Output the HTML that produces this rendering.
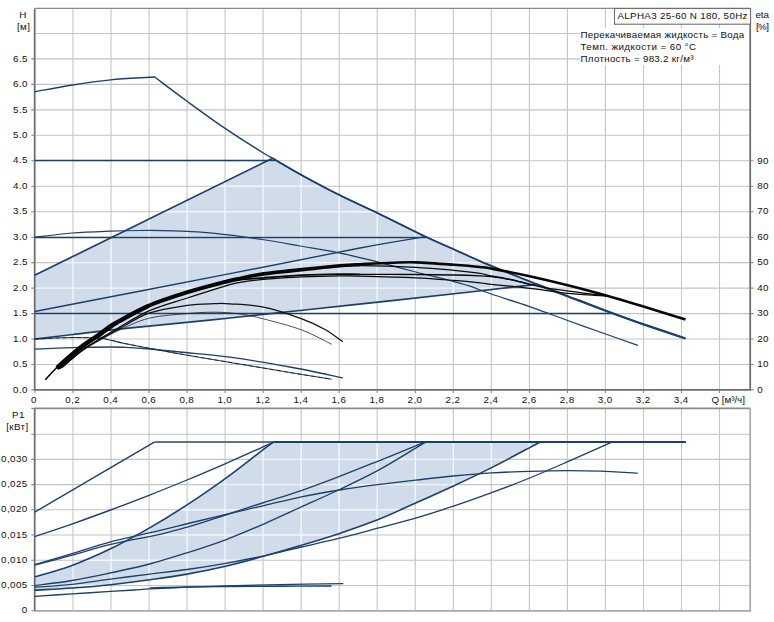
<!DOCTYPE html>
<html lang="ru"><head><meta charset="utf-8"><title>ALPHA3 25-60 N 180</title>
<style>html,body{margin:0;padding:0;background:#fff}body{width:774px;height:622px;overflow:hidden}svg{display:block}text{font-family:"Liberation Sans",Arial,sans-serif;font-size:9.8px;letter-spacing:0.4px;fill:#111}</style>
</head><body>
<svg width="774" height="622" viewBox="0 0 774 622">
<rect width="774" height="622" fill="#fff"/>
<defs>
<clipPath id="c1"><path d="M34.6 275.3 L273.1 158.0 C277.8 160.8 290.2 168.7 301.3 174.9 C312.4 181.1 326.8 188.7 339.5 195.1 C352.2 201.5 363.4 206.3 377.8 213.2 C392.2 220.1 412.9 230.7 425.6 236.7 C438.3 242.7 444.7 245.2 453.8 249.3 C462.9 253.4 470.6 257.1 480.0 261.1 C489.4 265.2 500.8 269.7 510.3 273.6 C519.8 277.5 532.5 282.6 537.0 284.4 C525.8 285.7 501.2 288.6 470.0 292.0 C438.8 295.4 390.0 300.8 350.0 305.1 C310.0 309.4 267.3 314.1 230.0 318.0 C192.7 321.9 152.2 325.6 126.0 328.4 C99.8 331.1 88.2 332.7 73.0 334.5 C57.8 336.3 41.0 338.2 34.6 339.0 Z"/></clipPath>
<clipPath id="c2"><path d="M34.6 577.0 C40.8 575.1 59.3 570.1 72.0 565.4 C84.7 560.7 97.7 555.0 110.6 548.8 C123.5 542.5 136.9 535.2 149.6 527.9 C162.3 520.6 174.3 513.2 187.0 504.9 C199.7 496.6 212.7 487.6 225.6 478.3 C238.5 469.0 256.2 454.8 264.2 448.8 C272.2 442.8 271.9 443.2 273.4 442.1 L540.1 442.1 C538.4 443.0 537.8 443.4 529.7 447.6 C521.6 451.9 504.3 461.2 491.6 467.6 C478.9 474.0 466.1 480.1 453.4 486.0 C440.7 491.9 428.2 497.5 415.6 503.1 C403.0 508.7 390.3 514.8 377.6 519.8 C364.9 524.8 352.3 529.1 339.6 533.4 C326.9 537.6 313.9 541.5 301.3 545.3 C288.7 549.1 276.8 552.6 264.2 556.1 C251.6 559.6 238.5 563.2 225.6 566.2 C212.7 569.2 199.7 571.8 187.0 574.1 C174.3 576.4 162.3 578.0 149.6 579.8 C136.9 581.6 123.5 583.3 110.6 584.7 C97.7 586.1 84.7 587.1 72.0 588.0 C59.3 588.9 40.8 589.8 34.6 590.2 Z"/></clipPath>
<clipPath id="t1"><rect x="34" y="8" width="717" height="382"/></clipPath>
</defs>
<g>
<path d="M73.0 8.4 V389.9 M111.0 8.4 V389.9 M149.1 8.4 V389.9 M187.1 8.4 V389.9 M225.1 8.4 V389.9 M263.1 8.4 V389.9 M301.2 8.4 V389.9 M339.2 8.4 V389.9 M377.2 8.4 V389.9 M415.3 8.4 V389.9 M453.3 8.4 V389.9 M491.3 8.4 V389.9 M529.4 8.4 V389.9 M567.4 8.4 V389.9 M605.4 8.4 V389.9 M643.5 8.4 V389.9 M681.5 8.4 V389.9 M719.5 8.4 V389.9" fill="none" stroke="#c6c6c6" stroke-width="1.1" /><path d="M34.7 364.5 H750.2 M34.7 339.0 H750.2 M34.7 313.6 H750.2 M34.7 288.1 H750.2 M34.7 262.6 H750.2 M34.7 237.2 H750.2 M34.7 211.7 H750.2 M34.7 186.2 H750.2 M34.7 160.8 H750.2 M34.7 135.3 H750.2 M34.7 109.9 H750.2 M34.7 84.4 H750.2 M34.7 58.9 H750.2 M34.7 33.5 H750.2" fill="none" stroke="#c4c4c4" stroke-width="1.1" />
<path d="M34.6 275.3 L273.1 158.0 C277.8 160.8 290.2 168.7 301.3 174.9 C312.4 181.1 326.8 188.7 339.5 195.1 C352.2 201.5 363.4 206.3 377.8 213.2 C392.2 220.1 412.9 230.7 425.6 236.7 C438.3 242.7 444.7 245.2 453.8 249.3 C462.9 253.4 470.6 257.1 480.0 261.1 C489.4 265.2 500.8 269.7 510.3 273.6 C519.8 277.5 532.5 282.6 537.0 284.4 C525.8 285.7 501.2 288.6 470.0 292.0 C438.8 295.4 390.0 300.8 350.0 305.1 C310.0 309.4 267.3 314.1 230.0 318.0 C192.7 321.9 152.2 325.6 126.0 328.4 C99.8 331.1 88.2 332.7 73.0 334.5 C57.8 336.3 41.0 338.2 34.6 339.0 Z" fill="#d0dcea"/>
<path d="M73.0 8.4 V389.9 M111.0 8.4 V389.9 M149.1 8.4 V389.9 M187.1 8.4 V389.9 M225.1 8.4 V389.9 M263.1 8.4 V389.9 M301.2 8.4 V389.9 M339.2 8.4 V389.9 M377.2 8.4 V389.9 M415.3 8.4 V389.9 M453.3 8.4 V389.9 M491.3 8.4 V389.9 M529.4 8.4 V389.9 M567.4 8.4 V389.9 M605.4 8.4 V389.9 M643.5 8.4 V389.9 M681.5 8.4 V389.9 M719.5 8.4 V389.9" fill="none" stroke="#f2f6fa" stroke-width="1.4" clip-path="url(#c1)"/><path d="M34.7 364.5 H750.2 M34.7 339.0 H750.2 M34.7 313.6 H750.2 M34.7 288.1 H750.2 M34.7 262.6 H750.2 M34.7 237.2 H750.2 M34.7 211.7 H750.2 M34.7 186.2 H750.2 M34.7 160.8 H750.2 M34.7 135.3 H750.2 M34.7 109.9 H750.2 M34.7 84.4 H750.2 M34.7 58.9 H750.2 M34.7 33.5 H750.2" fill="none" stroke="#f2f6fa" stroke-width="1.4" clip-path="url(#c1)"/>
<rect x="580" y="28" width="170" height="37" fill="#fff"/>
<path d="M34.7 8.4 H750.2" stroke="#8a8a8a" stroke-width="1.4" fill="none"/>
<path d="M34.7 8.4 V390.8 M750.2 8.4 V390.8 M33.8 389.9 H751.1" stroke="#6c6c6c" stroke-width="1.75" fill="none"/>
<path d="M34.7 389.9 h-3.4 M34.7 364.5 h-3.4 M34.7 339.0 h-3.4 M34.7 313.6 h-3.4 M34.7 288.1 h-3.4 M34.7 262.6 h-3.4 M34.7 237.2 h-3.4 M34.7 211.7 h-3.4 M34.7 186.2 h-3.4 M34.7 160.8 h-3.4 M34.7 135.3 h-3.4 M34.7 109.9 h-3.4 M34.7 84.4 h-3.4 M34.7 58.9 h-3.4 M750.2 389.9 h3.3 M750.2 364.5 h3.3 M750.2 339.0 h3.3 M750.2 313.6 h3.3 M750.2 288.1 h3.3 M750.2 262.6 h3.3 M750.2 237.2 h3.3 M750.2 211.7 h3.3 M750.2 186.2 h3.3 M750.2 160.8 h3.3 M35.0 389.9 v3.2 M73.0 389.9 v3.2 M111.0 389.9 v3.2 M149.1 389.9 v3.2 M187.1 389.9 v3.2 M225.1 389.9 v3.2 M263.2 389.9 v3.2 M301.2 389.9 v3.2 M339.2 389.9 v3.2 M377.2 389.9 v3.2 M415.3 389.9 v3.2 M453.3 389.9 v3.2 M491.3 389.9 v3.2 M529.4 389.9 v3.2 M567.4 389.9 v3.2 M605.4 389.9 v3.2 M643.5 389.9 v3.2 M681.5 389.9 v3.2 M719.5 389.9 v3.2" stroke="#868686" stroke-width="1.1" fill="none"/>
</g>
<path d="M34.6 91.8 C40.9 90.7 59.9 87.0 72.6 85.0 C85.3 83.0 97.9 81.2 110.6 79.9 C123.3 78.6 141.6 77.8 148.9 77.3 C156.2 76.8 153.4 76.9 154.3 76.8 L154.3 76.8 C159.8 80.9 175.3 92.7 187.1 101.3 C198.9 109.9 212.4 119.8 225.1 128.4 C237.8 137.0 255.3 148.0 263.3 153.0 C271.3 158.0 266.8 154.9 273.1 158.6 C279.4 162.2 290.2 168.8 301.3 174.9 C312.4 181.0 326.8 188.7 339.5 195.1 C352.2 201.5 363.4 206.3 377.8 213.2 C392.2 220.1 412.9 230.7 425.6 236.7 C438.3 242.7 444.7 245.2 453.8 249.3 C462.9 253.4 470.6 257.1 480.0 261.1 C489.4 265.2 500.8 269.7 510.3 273.6 C519.8 277.5 527.4 280.6 537.0 284.4 C546.6 288.2 560.5 293.6 567.7 296.3 C574.9 299.1 572.6 298.1 580.0 300.9 C587.4 303.7 601.3 309.1 611.9 313.0 C622.5 316.9 631.2 320.1 643.5 324.4 C655.8 328.6 678.5 336.1 685.5 338.5" fill="none" stroke="#1b406c" stroke-width="1.4" stroke-linejoin="round" />
<path d="M273.1 158.6 C277.8 161.3 290.2 168.8 301.3 174.9 C312.4 181.0 326.8 188.7 339.5 195.1 C352.2 201.5 363.4 206.3 377.8 213.2 C392.2 220.1 412.9 230.7 425.6 236.7 C438.3 242.7 444.7 245.2 453.8 249.3 C462.9 253.4 470.6 257.1 480.0 261.1 C489.4 265.2 500.8 269.7 510.3 273.6 C519.8 277.5 532.5 282.6 537.0 284.4" fill="none" stroke="#1b406c" stroke-width="1.7" stroke-linejoin="round" />
<path d="M537.0 284.4 C542.1 286.4 560.5 293.6 567.7 296.3 C574.9 299.1 572.6 298.1 580.0 300.9 C587.4 303.7 601.3 309.1 611.9 313.0 C622.5 316.9 631.2 320.1 643.5 324.4 C655.8 328.6 678.5 336.1 685.5 338.5" fill="none" stroke="#1b406c" stroke-width="2.3" stroke-linejoin="round" />
<path d="M34.6 160.6 L275.5 160.6" fill="none" stroke="#1b406c" stroke-width="1.5" stroke-linejoin="round" />
<path d="M34.6 237.4 L425.8 237.4" fill="none" stroke="#1b406c" stroke-width="1.5" stroke-linejoin="round" />
<path d="M34.6 313.5 L611.9 313.5" fill="none" stroke="#1b406c" stroke-width="1.5" stroke-linejoin="round" />
<path d="M34.6 275.3 L273.1 158.0" fill="none" stroke="#1b406c" stroke-width="1.7" stroke-linejoin="round" />
<path d="M34.6 311.5 C67.2 305.2 175.8 284.3 230.0 273.7 C284.2 263.1 327.4 254.2 360.0 248.0 C392.6 241.8 414.7 238.6 425.6 236.7" fill="none" stroke="#1b406c" stroke-width="1.35" stroke-linejoin="round" />
<path d="M34.6 339.0 C41.0 338.2 57.8 336.3 73.0 334.5 C88.2 332.7 99.8 331.1 126.0 328.4 C152.2 325.6 192.7 321.9 230.0 318.0 C267.3 314.1 310.0 309.4 350.0 305.1 C390.0 300.8 438.8 295.4 470.0 292.0 C501.2 288.6 525.8 285.7 537.0 284.4" fill="none" stroke="#1b406c" stroke-width="1.7" stroke-linejoin="round" />
<path d="M34.6 237.3 C40.8 236.6 59.4 234.0 72.0 233.0 C84.6 232.0 98.7 231.6 110.0 231.2 C121.3 230.8 129.2 230.6 140.0 230.5 C150.8 230.4 162.5 230.4 175.0 230.9 C187.5 231.4 199.9 231.9 215.0 233.4 C230.1 234.9 251.1 237.9 265.3 240.0 C279.5 242.1 288.0 243.9 300.0 246.0 C312.0 248.1 327.5 250.7 337.5 252.6 C347.5 254.5 353.4 256.1 360.0 257.6 C366.6 259.2 368.1 259.5 377.4 261.9 C386.7 264.3 403.1 268.7 415.8 272.0 C428.5 275.3 444.8 279.2 453.8 281.6 C462.8 284.0 463.8 284.0 470.0 286.1 C476.2 288.2 481.4 290.6 491.3 294.0 C501.2 297.4 516.9 302.2 529.6 306.6 C542.3 311.0 556.0 316.3 567.7 320.5 C579.4 324.7 588.3 327.9 600.0 332.0 C611.7 336.1 631.5 343.2 637.8 345.4" fill="none" stroke="#1b406c" stroke-width="1.25" stroke-linejoin="round" />
<path d="M34.6 349.2 C41.0 348.9 60.3 348.0 73.0 347.6 C85.7 347.2 102.2 347.0 111.0 347.0 C119.8 347.0 119.5 347.1 126.0 347.4 C132.5 347.7 141.0 348.2 150.0 349.0 C159.0 349.8 166.7 350.6 180.0 352.0 C193.3 353.4 211.7 354.7 230.0 357.2 C248.3 359.7 271.2 363.6 290.0 367.0 C308.8 370.4 334.0 376.1 342.8 377.9" fill="none" stroke="#1b406c" stroke-width="1.3" stroke-linejoin="round" />
<path d="M34.6 339.0 C41.0 338.8 62.1 337.7 73.0 337.6 C83.9 337.5 93.7 337.8 100.0 338.2 C106.3 338.6 106.7 339.4 111.0 340.3 C115.3 341.2 119.5 342.5 126.0 343.8 C132.5 345.1 141.0 346.7 150.0 348.4 C159.0 350.1 166.7 351.6 180.0 353.9 C193.3 356.2 211.7 359.3 230.0 362.4 C248.3 365.5 273.1 369.7 290.0 372.5 C306.9 375.3 324.8 378.1 331.7 379.2" fill="none" stroke="#1b406c" stroke-width="1.05" stroke-linejoin="round" />
<path d="M34.6 339.0 C41.0 338.8 62.1 337.7 73.0 337.6 C83.9 337.5 93.7 337.8 100.0 338.2 C106.3 338.6 106.7 339.4 111.0 340.3 C115.3 341.2 119.5 342.5 126.0 343.8 C132.5 345.1 141.0 346.7 150.0 348.4 C159.0 350.1 166.7 351.6 180.0 353.9 C193.3 356.2 211.7 359.3 230.0 362.4 C248.3 365.5 273.1 369.7 290.0 372.5 C306.9 375.3 324.8 378.1 331.7 379.2" fill="none" stroke="#111" stroke-width="0.7" stroke-linejoin="round" stroke-dasharray="4 3"/>
<path d="M64.0 366.0 C67.1 363.5 76.5 355.1 82.5 350.8 C88.5 346.5 94.2 343.5 100.0 340.2 C105.8 336.9 109.2 334.7 117.4 331.0 C125.6 327.3 137.3 321.1 149.0 318.2 C160.7 315.3 176.3 314.6 187.3 313.6 C198.3 312.6 206.2 312.1 215.0 312.2 C223.8 312.3 231.9 312.9 240.0 314.0 C248.1 315.1 253.3 316.2 263.6 318.9 C273.9 321.6 290.5 325.8 301.9 330.0 C313.2 334.2 326.7 341.9 331.7 344.3" fill="none" stroke="#222" stroke-width="0.8" stroke-linejoin="round" />
<path d="M62.0 367.4 C65.4 364.5 76.2 355.0 82.5 350.3 C88.8 345.6 94.2 342.8 100.0 339.4 C105.8 336.0 109.2 334.3 117.4 329.9 C125.6 325.5 137.3 317.3 149.0 313.2 C160.7 309.1 176.5 306.9 187.3 305.3 C198.1 303.7 206.9 303.9 214.0 303.7 C221.1 303.4 221.7 303.2 230.0 303.8 C238.3 304.4 251.6 304.7 263.6 307.2 C275.6 309.7 291.7 315.2 301.9 318.9 C312.1 322.6 318.2 325.7 325.0 329.5 C331.8 333.3 339.8 339.7 342.8 341.7" fill="none" stroke="#111" stroke-width="1.3" stroke-linejoin="round" />
<path d="M60.0 368.8 C63.8 365.6 75.8 354.8 82.5 349.8 C89.2 344.8 94.2 342.2 100.0 338.6 C105.8 335.0 109.2 333.0 117.4 328.4 C125.6 323.8 137.3 316.0 149.0 310.9 C160.7 305.8 174.5 302.2 187.3 298.0 C200.1 293.8 217.1 288.4 225.9 285.8 C234.7 283.2 233.7 283.5 240.0 282.4 C246.3 281.3 253.3 280.3 263.6 279.4 C273.9 278.5 289.2 277.4 301.9 276.8 C314.6 276.2 330.3 275.9 340.0 275.8 C349.7 275.7 347.4 275.9 360.0 276.2 C372.6 276.5 400.2 277.2 415.8 277.9 C431.4 278.6 443.1 279.6 453.8 280.4 C464.5 281.2 473.8 282.2 480.0 282.9 C486.2 283.6 486.2 283.9 491.3 284.4 C496.4 284.9 503.9 285.5 510.3 286.1 C516.7 286.8 523.7 287.6 529.6 288.3 C535.5 289.0 539.2 289.5 545.6 290.3 C552.0 291.1 558.6 292.4 567.7 293.3 C576.8 294.2 593.3 295.2 600.0 295.7 C606.7 296.1 606.4 295.9 607.7 296.0" fill="none" stroke="#080808" stroke-width="1.2" stroke-linejoin="round" />
<path d="M57.0 368.1 C58.4 366.9 60.8 364.4 65.1 360.8 C69.3 357.2 76.7 350.6 82.5 346.2 C88.3 341.8 95.4 337.4 100.0 334.2 C104.6 331.0 107.1 328.8 110.0 326.8 C112.9 324.8 110.9 325.7 117.4 322.2" fill="none" stroke="#080808" stroke-width="4.7" stroke-linejoin="round" stroke-linecap="butt"/>
<path d="M117.4 322.2 C123.9 318.7 137.3 310.8 149.0 305.8" fill="none" stroke="#080808" stroke-width="4.2" stroke-linejoin="round" />
<path d="M57.0 368.9 C58.4 367.7 60.8 365.2 65.1 361.6 C69.3 358.0 76.7 351.4 82.5 347.0 C88.3 342.6 95.4 338.2 100.0 335.0 C104.6 331.8 107.1 329.6 110.0 327.6 C112.9 325.6 110.9 326.5 117.4 323.0 C123.9 319.5 137.3 311.6 149.0 306.6 C160.7 301.7 174.5 297.3 187.3 293.3 C200.1 289.3 217.1 285.1 225.9 282.8 C234.7 280.6 233.7 280.6 240.0 279.8 C246.3 279.0 253.3 278.6 263.6 277.8 C273.9 277.0 289.2 275.8 301.9 275.2 C314.6 274.6 330.3 274.3 340.0 274.2 C349.7 274.1 347.4 274.3 360.0 274.4" fill="none" stroke="#080808" stroke-width="1.8" stroke-linejoin="round" />
<path d="M360.0 274.4 C372.6 274.4 400.2 274.4 415.8 274.5 C431.4 274.6 443.1 274.8 453.8 275.0 C464.5 275.2 473.8 275.6 480.0 275.9 C486.2 276.2 486.2 276.0 491.3 276.6 C496.4 277.2 503.9 278.3 510.3 279.6 C516.7 280.9 526.4 283.6 529.6 284.4" fill="none" stroke="#080808" stroke-width="1.3" stroke-linejoin="round" />
<path d="M57.0 368.2 C58.4 367.0 60.8 364.6 65.1 360.9 C69.3 357.3 76.7 350.7 82.5 346.3 C88.3 341.9 95.4 337.5 100.0 334.3 C104.6 331.1 107.1 328.9 110.0 326.9 C112.9 324.9 110.9 325.8 117.4 322.3 C123.9 318.8 137.3 310.9 149.0 305.9 C160.7 301.0 174.5 296.6 187.3 292.6 C200.1 288.6 217.1 284.4 225.9 282.1 C234.7 279.8 233.7 280.1 240.0 278.9 C246.3 277.7 253.3 276.2 263.6 274.8 C273.9 273.4 289.2 272.0 301.9 270.6 C314.6 269.2 330.3 267.4 340.0 266.6 C349.7 265.8 347.4 265.5 360.0 265.6" fill="none" stroke="#080808" stroke-width="2.0" stroke-linejoin="round" />
<path d="M360.0 265.6 C372.6 265.7 400.2 266.5 415.8 267.3 C431.4 268.1 443.1 269.3 453.8 270.3 C464.5 271.3 473.8 272.4 480.0 273.3 C486.2 274.2 486.2 275.0 491.3 276.0 C496.4 277.0 503.9 278.0 510.3 279.4 C516.7 280.8 523.7 282.8 529.6 284.2 C535.5 285.6 537.2 286.4 545.6 287.8 C554.0 289.2 569.6 291.2 580.0 292.6 C590.4 294.0 603.1 295.4 607.7 296.0" fill="none" stroke="#080808" stroke-width="1.3" stroke-linejoin="round" />
<path d="M45.3 379.7 C47.2 377.6 53.7 370.6 57.0 367.3" fill="none" stroke="#080808" stroke-width="1.6" stroke-linejoin="round" />
<path d="M57.0 367.3 C60.3 364.0 60.8 363.6 65.1 359.9 C69.3 356.2 76.7 349.7 82.5 345.3 C88.3 340.9 95.4 336.5 100.0 333.3 C104.6 330.1 107.1 327.9 110.0 325.9 C112.9 323.9 110.9 324.8 117.4 321.3 C123.9 317.8 137.3 309.9 149.0 304.9 C160.7 300.0 174.5 295.6 187.3 291.6 C200.1 287.6 217.1 283.4 225.9 281.1 C234.7 278.8 233.7 279.2 240.0 277.9 C246.3 276.6 253.3 274.9 263.6 273.4 C273.9 271.9 289.2 270.3 301.9 269.0 C314.6 267.7 330.3 266.2 340.0 265.4 C349.7 264.6 351.3 264.6 360.0 264.2 C368.7 263.8 382.7 263.1 392.0 262.8 C401.3 262.5 405.5 262.1 415.8 262.4 C426.1 262.7 443.1 264.0 453.8 264.8 C464.5 265.6 473.8 266.4 480.0 267.0 C486.2 267.6 483.0 267.1 491.3 268.6 C499.6 270.1 516.9 273.4 529.6 276.2 C542.3 279.0 555.1 282.0 567.7 285.2 C580.4 288.4 592.9 291.7 605.5 295.3 C618.1 298.9 630.2 302.6 643.5 306.6 C656.8 310.6 678.5 317.4 685.5 319.5" fill="none" stroke="#080808" stroke-width="2.6" stroke-linejoin="round" />
<g>
<path d="M73.0 408.4 V610.9 M111.0 408.4 V610.9 M149.1 408.4 V610.9 M187.1 408.4 V610.9 M225.1 408.4 V610.9 M263.1 408.4 V610.9 M301.2 408.4 V610.9 M339.2 408.4 V610.9 M377.2 408.4 V610.9 M415.3 408.4 V610.9 M453.3 408.4 V610.9 M491.3 408.4 V610.9 M529.4 408.4 V610.9 M567.4 408.4 V610.9 M605.4 408.4 V610.9 M643.5 408.4 V610.9 M681.5 408.4 V610.9 M719.5 408.4 V610.9" fill="none" stroke="#c6c6c6" stroke-width="1.1" /><path d="M34.7 585.5 H750.2 M34.7 560.3 H750.2 M34.7 535.0 H750.2 M34.7 509.8 H750.2 M34.7 484.6 H750.2 M34.7 459.4 H750.2 M34.7 434.2 H750.2" fill="none" stroke="#c4c4c4" stroke-width="1.1" />
<path d="M34.6 577.0 C40.8 575.1 59.3 570.1 72.0 565.4 C84.7 560.7 97.7 555.0 110.6 548.8 C123.5 542.5 136.9 535.2 149.6 527.9 C162.3 520.6 174.3 513.2 187.0 504.9 C199.7 496.6 212.7 487.6 225.6 478.3 C238.5 469.0 256.2 454.8 264.2 448.8 C272.2 442.8 271.9 443.2 273.4 442.1 L540.1 442.1 C538.4 443.0 537.8 443.4 529.7 447.6 C521.6 451.9 504.3 461.2 491.6 467.6 C478.9 474.0 466.1 480.1 453.4 486.0 C440.7 491.9 428.2 497.5 415.6 503.1 C403.0 508.7 390.3 514.8 377.6 519.8 C364.9 524.8 352.3 529.1 339.6 533.4 C326.9 537.6 313.9 541.5 301.3 545.3 C288.7 549.1 276.8 552.6 264.2 556.1 C251.6 559.6 238.5 563.2 225.6 566.2 C212.7 569.2 199.7 571.8 187.0 574.1 C174.3 576.4 162.3 578.0 149.6 579.8 C136.9 581.6 123.5 583.3 110.6 584.7 C97.7 586.1 84.7 587.1 72.0 588.0 C59.3 588.9 40.8 589.8 34.6 590.2 Z" fill="#d0dcea"/>
<path d="M73.0 408.4 V610.9 M111.0 408.4 V610.9 M149.1 408.4 V610.9 M187.1 408.4 V610.9 M225.1 408.4 V610.9 M263.1 408.4 V610.9 M301.2 408.4 V610.9 M339.2 408.4 V610.9 M377.2 408.4 V610.9 M415.3 408.4 V610.9 M453.3 408.4 V610.9 M491.3 408.4 V610.9 M529.4 408.4 V610.9 M567.4 408.4 V610.9 M605.4 408.4 V610.9 M643.5 408.4 V610.9 M681.5 408.4 V610.9 M719.5 408.4 V610.9" fill="none" stroke="#f2f6fa" stroke-width="1.4" clip-path="url(#c2)"/><path d="M34.7 585.5 H750.2 M34.7 560.3 H750.2 M34.7 535.0 H750.2 M34.7 509.8 H750.2 M34.7 484.6 H750.2 M34.7 459.4 H750.2 M34.7 434.2 H750.2" fill="none" stroke="#f2f6fa" stroke-width="1.4" clip-path="url(#c2)"/>
<path d="M34.7 408.4 H750.2" stroke="#8a8a8a" stroke-width="1.6" fill="none"/>
<path d="M750.2 408.4 V611.8 M34.7 610.9 H751.1" stroke="#a9a9a9" stroke-width="1.7" fill="none"/>
<path d="M34.7 408.4 V610.9" stroke="#6c6c6c" stroke-width="1.75" fill="none"/>
<path d="M34.7 610.7 h-3.4 M34.7 585.5 h-3.4 M34.7 560.3 h-3.4 M34.7 535.0 h-3.4 M34.7 509.8 h-3.4 M34.7 484.6 h-3.4 M34.7 459.4 h-3.4 M34.7 434.2 h-3.4 M34.7 408.4 h-3.4" stroke="#868686" stroke-width="1.1" fill="none"/>
</g>
<path d="M34.6 512.2 L154.3 442.1 L685.8 442.1" fill="none" stroke="#1b406c" stroke-width="1.4" stroke-linejoin="round" />
<path d="M156.0 442.1 L273.4 442.1" fill="none" stroke="#5f6d7c" stroke-width="1.7" stroke-linejoin="round" />
<path d="M273.4 442.1 L685.8 442.1" fill="none" stroke="#1b406c" stroke-width="2.0" stroke-linejoin="round" />
<path d="M34.6 536.7 C40.9 534.6 59.8 528.2 72.5 523.8 C85.2 519.3 97.8 514.8 110.6 510.0 C123.4 505.2 136.9 500.1 149.6 495.1 C162.3 490.1 174.3 485.2 187.0 480.0 C199.7 474.8 212.7 469.2 225.6 463.6 C238.5 458.0 256.2 450.0 264.2 446.4 C272.2 442.8 271.9 442.8 273.4 442.1" fill="none" stroke="#1b406c" stroke-width="1.35" stroke-linejoin="round" />
<path d="M34.6 577.0 C40.8 575.1 59.3 570.1 72.0 565.4 C84.7 560.7 97.7 555.0 110.6 548.8 C123.5 542.5 136.9 535.2 149.6 527.9 C162.3 520.6 174.3 513.2 187.0 504.9 C199.7 496.6 212.7 487.6 225.6 478.3 C238.5 469.0 256.2 454.8 264.2 448.8 C272.2 442.8 271.9 443.2 273.4 442.1" fill="none" stroke="#1b406c" stroke-width="1.6" stroke-linejoin="round" />
<path d="M34.6 565.2 C40.8 563.5 59.3 558.7 72.0 555.2 C84.7 551.7 95.9 547.9 110.6 544.4 C125.3 540.9 146.8 537.3 160.0 534.3 C173.2 531.3 179.3 529.4 190.0 526.3 C200.7 523.2 211.7 519.5 224.0 515.5 C236.3 511.5 251.1 506.6 264.0 502.5 C276.9 498.4 288.7 495.0 301.3 490.6 C313.9 486.2 326.9 481.3 339.6 476.4 C352.3 471.5 364.9 466.4 377.6 461.3 C390.3 456.2 407.6 449.1 415.6 445.9 C423.6 442.7 423.9 442.7 425.6 442.1" fill="none" stroke="#1b406c" stroke-width="1.35" stroke-linejoin="round" />
<path d="M34.6 564.6 C40.8 562.8 59.3 557.4 72.0 553.6 C84.7 549.8 95.9 545.7 110.6 541.8 C125.3 537.9 146.8 533.5 160.0 530.4 C173.2 527.3 179.3 525.6 190.0 523.0 C200.7 520.4 211.7 517.7 224.0 514.8 C236.3 511.9 251.1 508.6 264.0 505.6 C276.9 502.6 288.7 499.4 301.3 496.8 C313.9 494.2 326.9 492.0 339.6 490.0 C352.3 488.0 364.9 486.3 377.6 484.7 C390.3 483.1 403.0 481.6 415.6 480.1 C428.2 478.7 440.7 477.2 453.4 476.0 C466.1 474.8 478.9 473.6 491.6 472.8 C504.3 472.0 517.0 471.8 529.7 471.4 C542.4 471.0 556.0 470.7 567.7 470.7 C579.4 470.7 588.3 470.8 600.0 471.2 C611.7 471.6 631.4 472.8 637.7 473.1" fill="none" stroke="#1b406c" stroke-width="1.3" stroke-linejoin="round" />
<path d="M34.6 585.5 C40.8 584.7 59.3 582.6 72.0 580.5 C84.7 578.4 97.7 575.6 110.6 572.9 C123.5 570.1 136.9 567.4 149.6 564.0 C162.3 560.6 174.3 556.8 187.0 552.8 C199.7 548.8 212.7 544.6 225.6 539.8 C238.5 535.0 251.6 529.3 264.2 523.8 C276.8 518.3 288.7 512.6 301.3 506.9 C313.9 501.2 326.9 495.5 339.6 489.5 C352.3 483.5 364.9 477.6 377.6 470.7 C390.3 463.8 407.6 453.0 415.6 448.2 C423.6 443.4 423.9 443.1 425.6 442.1" fill="none" stroke="#1b406c" stroke-width="1.35" stroke-linejoin="round" />
<path d="M34.6 590.2 C40.8 589.8 59.3 588.9 72.0 588.0 C84.7 587.1 97.7 586.1 110.6 584.7 C123.5 583.3 136.9 581.6 149.6 579.8 C162.3 578.0 174.3 576.4 187.0 574.1 C199.7 571.8 212.7 569.2 225.6 566.2 C238.5 563.2 251.6 559.6 264.2 556.1 C276.8 552.6 288.7 549.1 301.3 545.3 C313.9 541.5 326.9 537.6 339.6 533.4 C352.3 529.1 364.9 524.8 377.6 519.8 C390.3 514.8 403.0 508.7 415.6 503.1 C428.2 497.5 440.7 491.9 453.4 486.0 C466.1 480.1 478.9 474.0 491.6 467.6 C504.3 461.2 521.6 451.9 529.7 447.6 C537.8 443.4 538.4 443.0 540.1 442.1" fill="none" stroke="#1b406c" stroke-width="1.6" stroke-linejoin="round" />
<path d="M34.6 587.2 C40.8 586.7 59.3 585.6 72.0 584.3 C84.7 582.9 97.7 580.8 110.6 579.1 C123.5 577.4 136.9 575.7 149.6 574.1 C162.3 572.5 174.3 571.3 187.0 569.5 C199.7 567.7 212.7 565.6 225.6 563.3 C238.5 561.0 251.6 558.5 264.2 555.8 C276.8 553.1 288.7 549.9 301.3 547.0 C313.9 544.1 326.9 541.3 339.6 538.2 C352.3 535.1 364.9 531.6 377.6 528.2 C390.3 524.9 403.0 521.8 415.6 518.1 C428.2 514.4 440.7 510.4 453.4 506.2 C466.1 502.0 478.9 497.4 491.6 492.7 C504.3 488.0 517.0 483.2 529.7 478.0 C542.4 472.8 556.0 466.8 567.7 461.7 C579.4 456.6 592.6 450.7 600.0 447.4 C607.4 444.1 609.9 443.0 611.9 442.1" fill="none" stroke="#1b406c" stroke-width="1.35" stroke-linejoin="round" />
<path d="M34.6 596.4 C40.8 596.0 59.3 594.7 72.0 593.9 C84.7 593.1 100.3 592.0 110.6 591.4 C120.9 590.8 127.5 590.4 134.0 590.0 C140.5 589.6 140.8 589.4 149.6 588.9 C158.4 588.4 174.3 587.7 187.0 587.2 C199.7 586.7 210.1 586.2 225.6 585.8 C241.1 585.4 260.4 585.0 280.0 584.6 C299.6 584.2 332.8 583.9 343.3 583.7" fill="none" stroke="#1b406c" stroke-width="1.35" stroke-linejoin="round" />
<path d="M150.0 588.0 C156.2 587.8 174.4 587.2 187.0 587.0 C199.6 586.8 210.1 586.6 225.6 586.5 C241.1 586.4 262.4 586.3 280.0 586.2 C297.6 586.1 322.9 586.0 331.5 586.0" fill="none" stroke="#1b406c" stroke-width="1.35" stroke-linejoin="round" />
<text x="22.9" y="17.6" text-anchor="middle" >H</text>
<text x="23.6" y="30.0" text-anchor="middle" >[м]</text>
<text x="27.9" y="392.5" text-anchor="end" >0.0</text>
<text x="27.9" y="367.1" text-anchor="end" >0.5</text>
<text x="27.9" y="341.6" text-anchor="end" >1.0</text>
<text x="27.9" y="316.2" text-anchor="end" >1.5</text>
<text x="27.9" y="290.7" text-anchor="end" >2.0</text>
<text x="27.9" y="265.2" text-anchor="end" >2.5</text>
<text x="27.9" y="239.8" text-anchor="end" >3.0</text>
<text x="27.9" y="214.3" text-anchor="end" >3.5</text>
<text x="27.9" y="188.8" text-anchor="end" >4.0</text>
<text x="27.9" y="163.4" text-anchor="end" >4.5</text>
<text x="27.9" y="137.9" text-anchor="end" >5.0</text>
<text x="27.9" y="112.5" text-anchor="end" >5.5</text>
<text x="27.9" y="87.0" text-anchor="end" >6.0</text>
<text x="27.9" y="61.5" text-anchor="end" >6.5</text>
<text x="757.2" y="392.6" text-anchor="start" >0</text>
<text x="757.2" y="367.2" text-anchor="start" >10</text>
<text x="757.2" y="341.7" text-anchor="start" >20</text>
<text x="757.2" y="316.2" text-anchor="start" >30</text>
<text x="757.2" y="290.8" text-anchor="start" >40</text>
<text x="757.2" y="265.3" text-anchor="start" >50</text>
<text x="757.2" y="239.9" text-anchor="start" >60</text>
<text x="757.2" y="214.4" text-anchor="start" >70</text>
<text x="757.2" y="188.9" text-anchor="start" >80</text>
<text x="757.2" y="163.5" text-anchor="start" >90</text>
<text x="755.4" y="17.8" text-anchor="start"  textLength="13.9" lengthAdjust="spacing">eta</text>
<text x="755.9" y="30.2" text-anchor="start"  textLength="13.4" lengthAdjust="spacing">[%]</text>
<text x="34.0" y="402.6" text-anchor="middle" >0</text>
<text x="72.7" y="402.6" text-anchor="middle" >0,2</text>
<text x="110.7" y="402.6" text-anchor="middle" >0,4</text>
<text x="148.8" y="402.6" text-anchor="middle" >0,6</text>
<text x="186.8" y="402.6" text-anchor="middle" >0,8</text>
<text x="224.8" y="402.6" text-anchor="middle" >1,0</text>
<text x="262.9" y="402.6" text-anchor="middle" >1,2</text>
<text x="300.9" y="402.6" text-anchor="middle" >1,4</text>
<text x="338.9" y="402.6" text-anchor="middle" >1,6</text>
<text x="376.9" y="402.6" text-anchor="middle" >1,8</text>
<text x="415.0" y="402.6" text-anchor="middle" >2,0</text>
<text x="453.0" y="402.6" text-anchor="middle" >2,2</text>
<text x="491.0" y="402.6" text-anchor="middle" >2,4</text>
<text x="529.1" y="402.6" text-anchor="middle" >2,6</text>
<text x="567.1" y="402.6" text-anchor="middle" >2,8</text>
<text x="605.1" y="402.6" text-anchor="middle" >3,0</text>
<text x="643.2" y="402.6" text-anchor="middle" >3,2</text>
<text x="681.2" y="402.6" text-anchor="middle" >3,4</text>
<text x="711.5" y="402.7" text-anchor="start"  textLength="33.8" lengthAdjust="spacing">Q [м³/ч]</text>
<text x="18.4" y="417.8" text-anchor="middle" >P1</text>
<text x="17.4" y="430.4" text-anchor="middle" >[кВт]</text>
<text x="27.6" y="613.3" text-anchor="end" >0</text>
<text x="27.6" y="588.1" text-anchor="end" >0,005</text>
<text x="27.6" y="562.9" text-anchor="end" >0,010</text>
<text x="27.6" y="537.6" text-anchor="end" >0,015</text>
<text x="27.6" y="512.4" text-anchor="end" >0,020</text>
<text x="27.6" y="487.2" text-anchor="end" >0,025</text>
<text x="27.6" y="462.0" text-anchor="end" >0,030</text>
<rect x="614.5" y="8.5" width="136" height="15.7" fill="#fff" stroke="#6e6e6e" stroke-width="1.1"/>
<text x="617.4" y="18.5" text-anchor="start"  textLength="130.5" lengthAdjust="spacing">ALPHA3 25-60 N 180, 50Hz</text>
<text x="580.5" y="37.8" text-anchor="start"  textLength="164.2" lengthAdjust="spacing">Перекачиваемая жидкость = Вода</text>
<text x="580.5" y="49.7" text-anchor="start"  textLength="116.0" lengthAdjust="spacing">Темп. жидкости = 60 °C</text>
<text x="580.5" y="61.7" text-anchor="start"  textLength="113.4" lengthAdjust="spacing">Плотность = 983.2 кг/м³</text>
</svg>
</body></html>
